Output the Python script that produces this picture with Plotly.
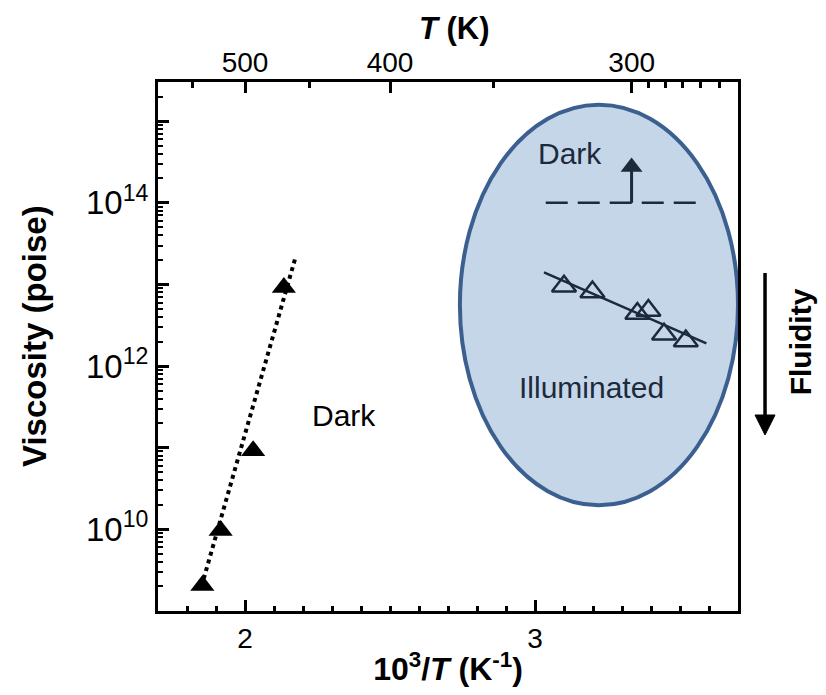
import plotly.graph_objects as go

# ---------------- data ----------------
dark_x = [1.853, 1.916, 2.028, 2.134]            # 10^3/T (K^-1)
dark_viscosity = [2.05e9, 9.7e9, 9.2e10, 9.2e12]  # poise
dark_fit_x = [1.85, 2.175]
dark_fit_viscosity = [2.0e9, 2.2e13]

illum_x = [3.100, 3.198, 3.353, 3.391, 3.445, 3.520]
illum_viscosity = [9.5e12, 8.1e12, 4.4e12, 4.8e12, 2.45e12, 2.03e12]
illum_fit_x = [3.031, 3.591]
illum_fit_viscosity = [1.41e13, 1.9e12]

dark_limit_x = [3.037, 3.577]
dark_limit_viscosity = [1.0e14, 1.0e14]
dark_limit_arrow_x = [3.333, 3.333]
dark_limit_arrow_viscosity = [1.0e14, 2.75e14]   # shaft from limit line to head

x_major = [2, 3]
x_minor = [1.8, 1.9, 2.1, 2.2, 2.3, 2.4, 2.5, 2.6, 2.7, 2.8, 2.9,
           3.1, 3.2, 3.3, 3.4, 3.5, 3.6]
T_major = [500, 400, 300]
T_minor = [550, 450, 350, 295, 290, 285, 280, 275]
y_labelled = [10, 12, 14]
y_unlabelled = [9, 11, 13, 15]

FONT = "Liberation Sans, Arial, sans-serif"
NAVY = "#1c2a3c"

fig = go.Figure()

fig.add_trace(go.Scatter(
    x=dark_fit_x, y=dark_fit_viscosity, mode="lines",
    line=dict(color="black", width=4, dash="dot"), showlegend=False))
fig.add_trace(go.Scatter(
    x=dark_x, y=dark_viscosity, mode="markers",
    marker=dict(symbol="triangle-up", size=21, color="black"),
    showlegend=False))
fig.add_trace(go.Scatter(
    x=illum_fit_x, y=illum_fit_viscosity, mode="lines",
    line=dict(color=NAVY, width=2.5), showlegend=False))
fig.add_trace(go.Scatter(
    x=illum_x, y=illum_viscosity, mode="markers",
    marker=dict(symbol="triangle-up-open", size=21, color=NAVY,
                line=dict(width=2.5, color=NAVY)),
    showlegend=False))
fig.add_trace(go.Scatter(
    x=dark_limit_x, y=dark_limit_viscosity, mode="lines",
    line=dict(color=NAVY, width=2.5, dash="22px,10px"), showlegend=False))
# upward arrow: dark viscosity is a lower limit
fig.add_trace(go.Scatter(
    x=dark_limit_arrow_x, y=dark_limit_arrow_viscosity, mode="lines",
    line=dict(color=NAVY, width=3), showlegend=False))
fig.add_trace(go.Scatter(
    x=dark_limit_arrow_x[1:], y=dark_limit_arrow_viscosity[1:], mode="markers",
    marker=dict(symbol="triangle-up", size=19, color=NAVY,
                line=dict(width=0)),
    showlegend=False))
# invisible traces to carry the top (temperature) axis and the odd-decade ticks
fig.add_trace(go.Scatter(
    x=[1000 / T_major[0]], y=[1e12], xaxis="x2", mode="markers",
    marker=dict(opacity=0), hoverinfo="skip", showlegend=False))
fig.add_trace(go.Scatter(
    x=[2.5], y=[1e12], yaxis="y2", mode="markers",
    marker=dict(opacity=0), hoverinfo="skip", showlegend=False))

# ellipse highlighting the illuminated region
fig.add_shape(type="circle", xref="x", yref="paper",
              x0=2.741, x1=3.70, y0=0.200, y1=0.957,
              fillcolor="#c5d6e9", line=dict(color="#3b5f8f", width=4),
              layer="below")

# "Fluidity" arrow to the right of the plot
fig.add_shape(type="line", xref="paper", yref="paper",
              x0=1.0466, x1=1.0466, y0=0.639, y1=0.36,
              line=dict(color="black", width=3.5))
fig.add_shape(type="path", xref="paper", yref="paper",
              path="M 1.0294,0.3705 L 1.0638,0.3705 L 1.0466,0.3327 Z",
              fillcolor="black", line=dict(color="black", width=1))

tick_font = dict(family=FONT, size=28, color="black")
tick_common = dict(ticks="inside", ticklen=11, tickwidth=2.5, tickcolor="black",
                   showgrid=False, zeroline=False)

fig.update_layout(
    width=826, height=695,
    margin=dict(l=158, r=88, t=82, b=84),
    paper_bgcolor="white", plot_bgcolor="white",
    font=dict(family=FONT, color="black"),
    xaxis=dict(
        range=[1.7, 3.7], tickmode="array", tickvals=x_major,
        ticktext=[str(v) for v in x_major],
        showline=True, linewidth=3, linecolor="black", mirror=False,
        tickfont=tick_font,
        minor=dict(tickvals=x_minor, ticks="inside", ticklen=5,
                   tickwidth=2.5, tickcolor="black", showgrid=False),
        title=dict(text="<b>10<sup>3</sup>/<i>T</i> (K<sup>-1</sup>)</b>",
                   font=dict(family=FONT, size=32), standoff=6),
        **tick_common,
    ),
    xaxis2=dict(
        overlaying="x", side="top", range=[1.7, 3.7], tickmode="array",
        tickvals=[1000 / t for t in T_major],
        ticktext=[str(t) for t in T_major],
        showline=True, linewidth=3, linecolor="black",
        tickfont=tick_font, ticklabelstandoff=-4,
        minor=dict(tickvals=[1000 / t for t in T_minor], ticks="inside",
                   ticklen=6, tickwidth=2.5, tickcolor="black",
                   showgrid=False),
        **tick_common,
    ),
    yaxis=dict(
        type="log", range=[9, 15.48], tickmode="array",
        tickvals=[10 ** d for d in y_labelled],
        ticktext=["10<sup>%d</sup>" % d for d in y_labelled],
        showline=True, linewidth=3, linecolor="black", mirror=True,
        tickfont=dict(family=FONT, size=33, color="black"),
        minor=dict(tickvals=[m * 10 ** d for d in range(9, 16) for m in range(2, 10)],
                   ticks="inside", ticklen=5, tickwidth=2, tickcolor="black",
                   showgrid=False),
        **tick_common,
    ),
    yaxis2=dict(
        type="log", range=[9, 15.48], overlaying="y", side="left",
        tickmode="array", tickvals=[10 ** d for d in y_unlabelled],
        showticklabels=False, showline=False,
        **tick_common,
    ),
)

# axis titles placed to match the reference
fig.add_annotation(x=0.512, y=1.102, xref="paper", yref="paper",
                   xanchor="center", yanchor="middle",
                   text="<b><i>T</i> (K)</b>", showarrow=False,
                   font=dict(family=FONT, size=31, color="black"))
fig.add_annotation(x=-0.212, y=0.52, xref="paper", yref="paper",
                   xanchor="center", yanchor="middle",
                   text="<b>Viscosity (poise)</b>", textangle=-90, showarrow=False,
                   font=dict(family=FONT, size=33, color="black"))

# text labels
fig.add_annotation(x=2.341, y=11.394, xref="x", yref="y", text="Dark",
                   showarrow=False, font=dict(family=FONT, size=30, color="black"))
fig.add_annotation(x=3.195, y=11.737, xref="x", yref="y", text="Illuminated",
                   showarrow=False, font=dict(family=FONT, size=30, color=NAVY))
fig.add_annotation(x=3.121, y=14.61, xref="x", yref="y", text="Dark",
                   showarrow=False, font=dict(family=FONT, size=30, color=NAVY))
fig.add_annotation(x=1.107, y=0.508, xref="paper", yref="paper",
                   xanchor="center", yanchor="middle",
                   text="<b>Fluidity</b>", textangle=-90, showarrow=False,
                   font=dict(family=FONT, size=30, color="black"))

fig.write_html("out.html")
